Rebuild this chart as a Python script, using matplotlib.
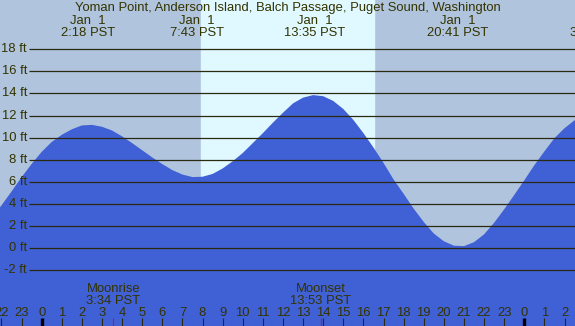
import numpy as np
import matplotlib.pyplot as plt

# Datos (horas desde la medianoche del 1 de enero, nivel en pies)
horas = np.arange(-2.5, 27.01, 0.5)
niveles = [2.7, 3.85, 5.1, 6.4, 7.6, 8.7, 9.6, 10.25, 10.75, 11.1,
           11.15, 10.98, 10.64, 10.11, 9.5, 8.85, 8.2, 7.6, 7.05, 6.65,
           6.42, 6.45, 6.7, 7.2, 7.85, 8.6, 9.5, 10.4, 11.35, 12.25,
           13.1, 13.62, 13.85, 13.75, 13.32, 12.59, 11.6, 10.4, 9.1, 7.7,
           6.2, 4.9, 3.55, 2.35, 1.3, 0.6, 0.2, 0.16, 0.52, 1.23,
           2.28, 3.5, 4.8, 6.13, 7.5, 8.75, 9.95, 10.85, 11.57, 12.1]

# Pleamares y bajamares (hora decimal y etiqueta)
extremos_horas = [2 + 18/60, 7 + 43/60, 13 + 35/60, 20 + 41/60]
extremos_etiquetas = ['2:18 PST', '7:43 PST', '13:35 PST', '20:41 PST']

# Salida y puesta del sol (franja clara)
amanecer = 7.91
atardecer = 16.52

# Salida y puesta de la luna
luna_horas = [3 + 34/60, 13 + 53/60]
luna_nombres = ['Moonrise', 'Moonset']
luna_etiquetas = ['3:34 PST', '13:53 PST']

# Marcas del eje horizontal
marcas_horas = list(range(-2, 27))
marcas_etiquetas = [str(h % 24) for h in marcas_horas]

# Niveles de la cuadrícula
niveles_rejilla = list(range(-2, 19, 2))

titulo = 'Yoman Point, Anderson Island, Balch Passage, Puget Sound, Washington'


def plot_marea():
    """
    Dibuja la curva de marea con las franjas de día/noche.
    """
    plt.rcParams['font.family'] = ['Liberation Sans', 'DejaVu Sans']
    color_texto = '#333300'
    tam = 9.4

    x0, x1 = -2.07, 26.52
    y0, y1 = -7.08, 22.47

    fig = plt.figure(figsize=(5.75, 3.26), dpi=100)
    fig.patch.set_facecolor('#B0C4DE')
    ax = fig.add_axes([0, 0, 1, 1])
    ax.set_facecolor('#B0C4DE')
    for s in ax.spines.values():
        s.set_visible(False)
    ax.set_xticks([])
    ax.set_yticks([])
    ax.set_xlim(x0, x1)
    ax.set_ylim(y0, y1)

    # Franja de día
    ax.axvspan(amanecer, atardecer, color='#E0F8FF', zorder=1)

    # Área de la marea
    ax.fill_between(horas, niveles, y0 - 1, color='#4060D6', lw=0, zorder=2)

    # Líneas horizontales y etiquetas del eje vertical
    x_inicio = -0.63
    ax.hlines(niveles_rejilla, x_inicio, x1, color='#2A2A10', lw=0.9, zorder=3)
    for n in niveles_rejilla:
        ax.text(-0.73, n, '%d ft' % n, ha='right', va='center',
                fontsize=tam, color=color_texto, zorder=4)

    # Título y horas de los extremos
    ax.text((x0 + x1) / 2, 21.43, titulo, ha='center', va='baseline',
            fontsize=tam, color=color_texto)
    for h, et in zip(extremos_horas, extremos_etiquetas):
        ax.text(h, 20.29, 'Jan  1', ha='center', va='baseline',
                fontsize=tam, color=color_texto)
        ax.text(h, 19.21, et, ha='center', va='baseline',
                fontsize=tam, color=color_texto)
    # Siguiente extremo, cortado por el borde derecho
    ax.text(26.28, 19.21, '3:03 PST', ha='left', va='baseline',
            fontsize=tam, color=color_texto, clip_on=False)

    # Luna
    for h, nom, et in zip(luna_horas, luna_nombres, luna_etiquetas):
        ax.text(h, -3.96, nom, ha='center', va='baseline',
                fontsize=tam, color=color_texto, zorder=4)
        ax.text(h, -5.09, et, ha='center', va='baseline',
                fontsize=tam, color=color_texto, zorder=4)
        ax.vlines(h, -6.36, y0, color='red', lw=0.8, zorder=4)

    # Marcas de las horas
    for h, et in zip(marcas_horas, marcas_etiquetas):
        ancho = 2.4 if h % 24 == 0 else 0.8
        color = 'black' if h % 24 == 0 else '#2A2A10'
        ax.vlines(h, -6.36, y0, color=color, lw=ancho, zorder=4)
        ax.text(h, -6.18, et, ha='center', va='baseline',
                fontsize=tam, color=color_texto, zorder=4)

    plt.savefig('out.png', dpi=100, facecolor=fig.get_facecolor())


if __name__ == "__main__":
    plot_marea()
